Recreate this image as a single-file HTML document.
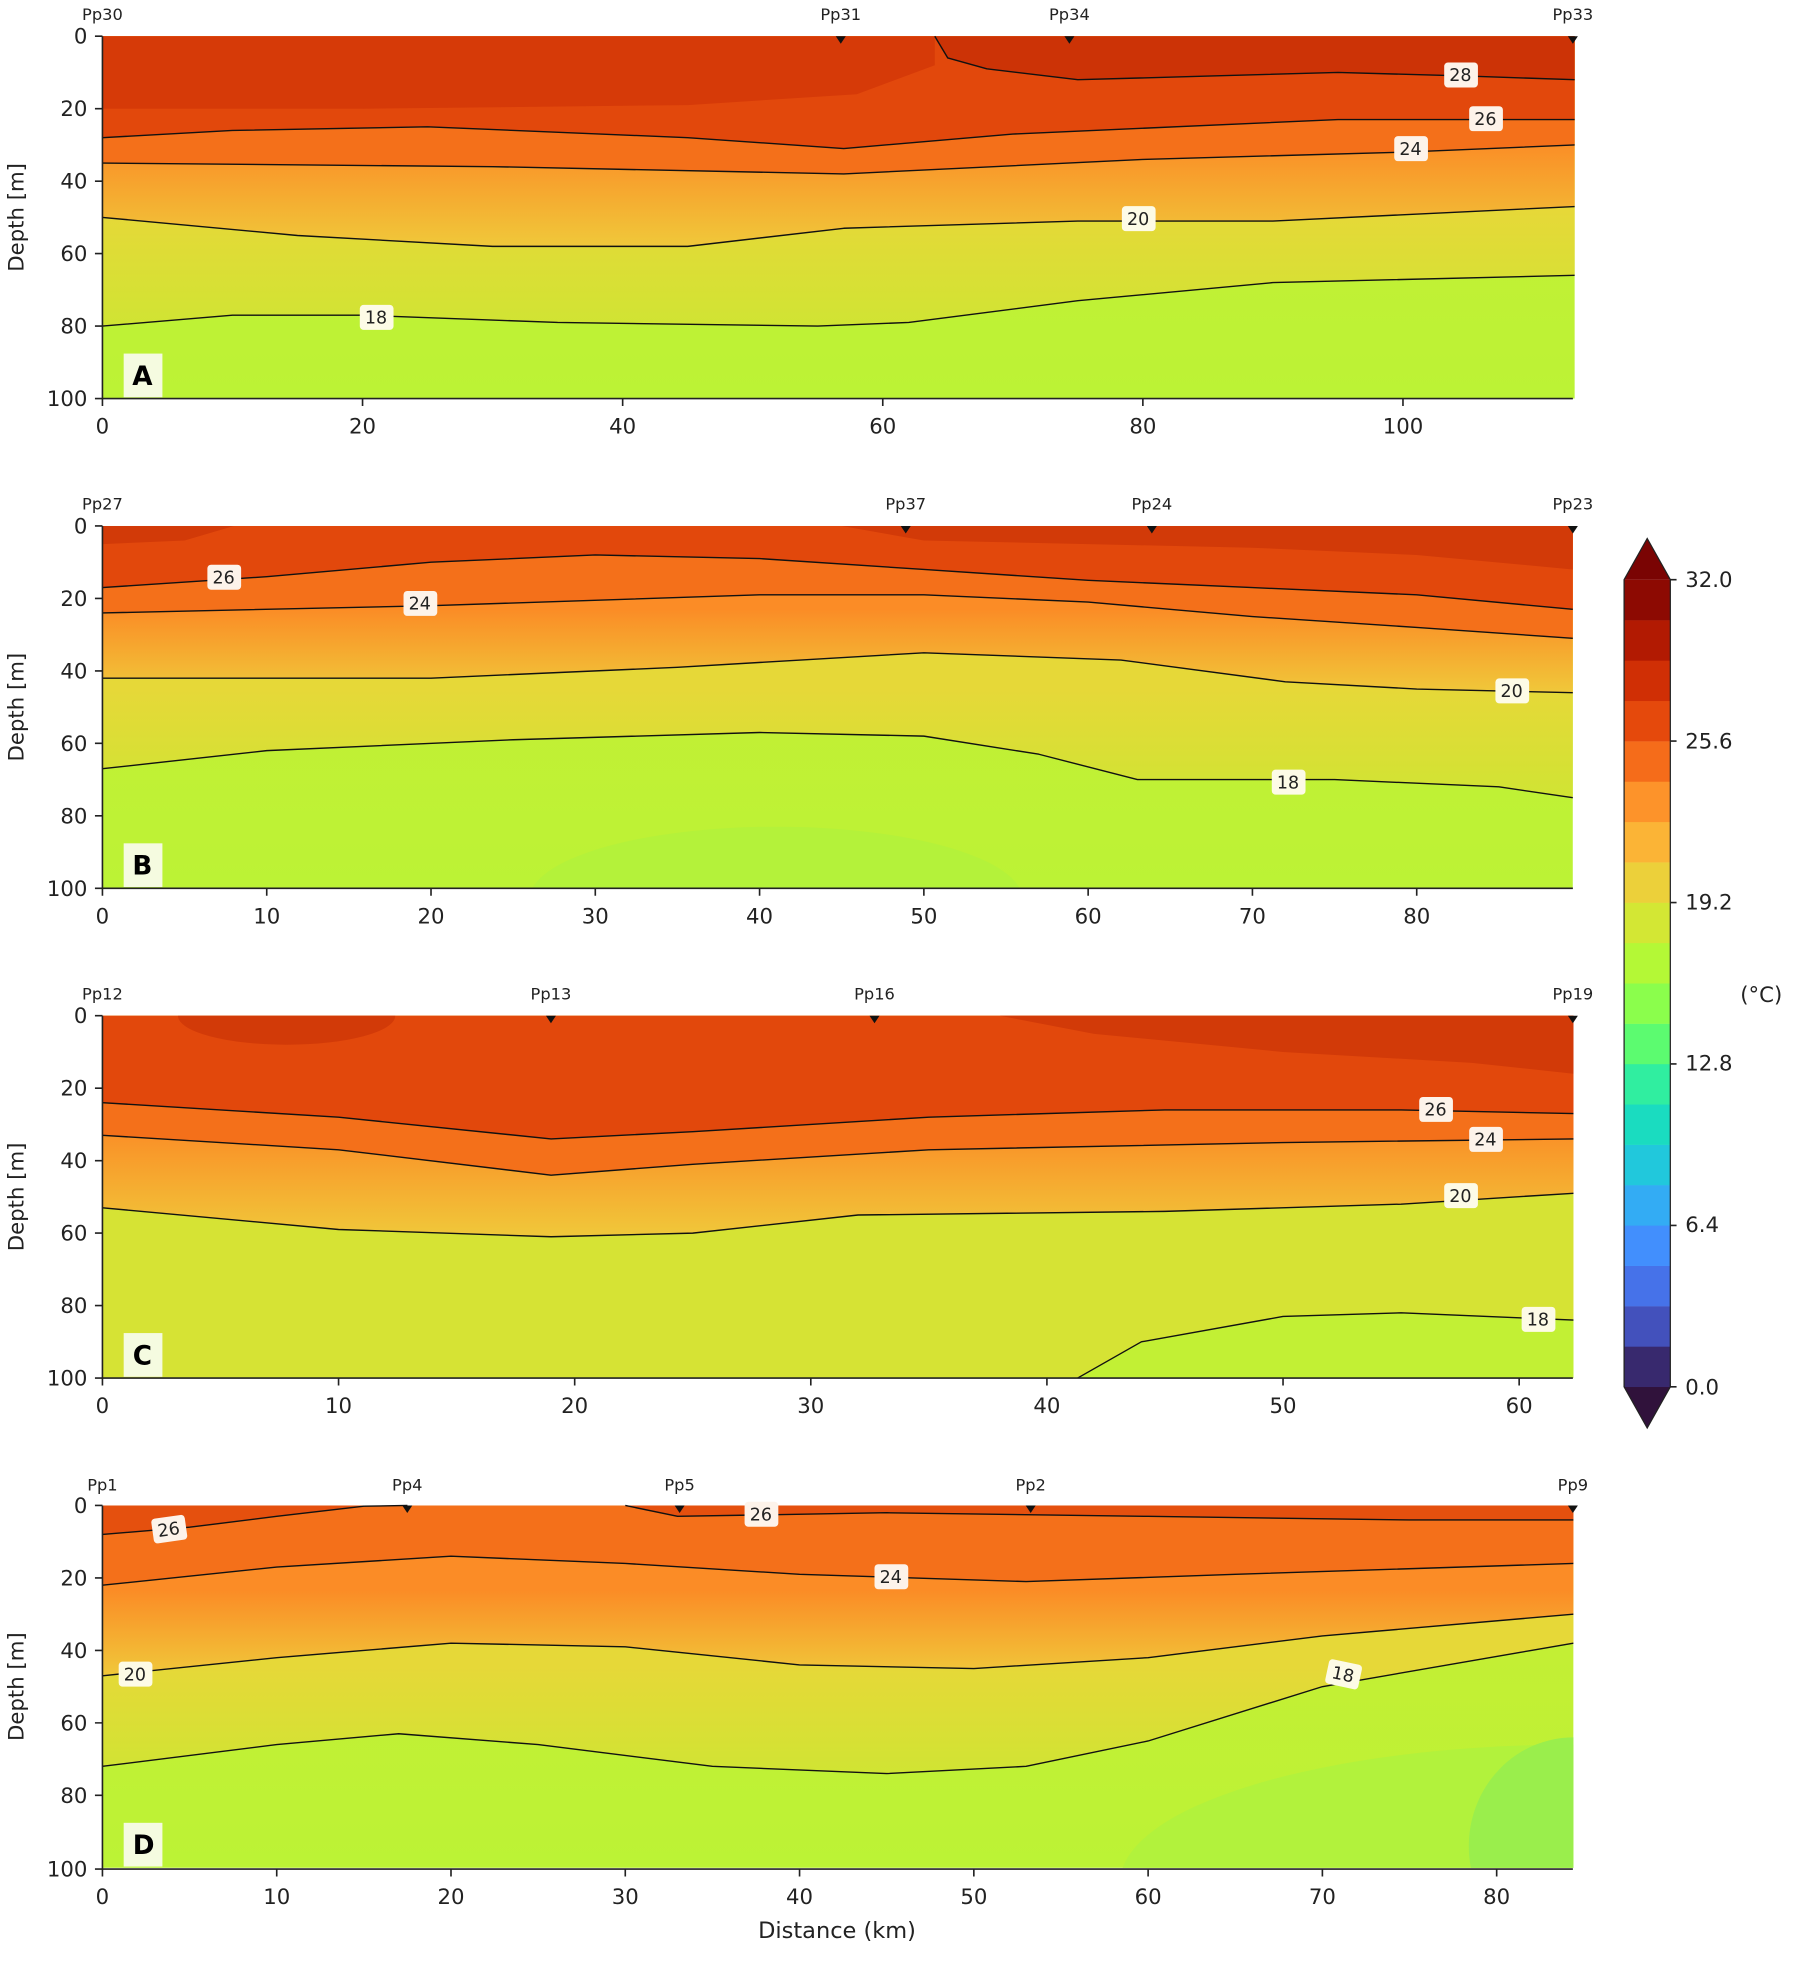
<!DOCTYPE html>
<html><head><meta charset="utf-8"><style>html,body{margin:0;padding:0;background:#fff}svg{display:block}</style></head><body>
<svg width="1799" height="1969" viewBox="0 0 1440 1576" preserveAspectRatio="none" xmlns="http://www.w3.org/2000/svg" font-family="DejaVu Sans, Liberation Sans, sans-serif">
<defs>
<linearGradient id="g20" x1="0" y1="0" x2="0" y2="1"><stop offset="0.5" stop-color="#fb8c26"/><stop offset="1" stop-color="#f0c83a"/></linearGradient>
<linearGradient id="g18" x1="0" y1="0" x2="0" y2="1"><stop offset="0.6" stop-color="#e6d838"/><stop offset="1" stop-color="#d0e433"/></linearGradient>
<linearGradient id="gbg" x1="0" y1="0" x2="0" y2="1"><stop offset="0" stop-color="#c8ec34"/><stop offset="1" stop-color="#bcf335"/></linearGradient>
<clipPath id="cB" clipPathUnits="userSpaceOnUse"><rect x="0" y="0" width="89.5" height="100"/></clipPath>
<clipPath id="cC" clipPathUnits="userSpaceOnUse"><rect x="0" y="0" width="62.3" height="100"/></clipPath>
<clipPath id="cD" clipPathUnits="userSpaceOnUse"><rect x="0" y="0" width="84.4" height="100"/></clipPath>
<style>.c{fill:none;stroke:#111;stroke-width:1.4;vector-effect:non-scaling-stroke;stroke-linejoin:round}.t{font-size:17px;fill:#222}.s{font-size:13px;fill:#222}.lb{font-size:14px;fill:#222}</style>
</defs>

<!-- ===== Panel A ===== -->
<g transform="translate(82,29) scale(10.41,2.9)">
<rect x="0" y="0" width="113.2" height="100" fill="url(#gbg)"/>
<polygon fill="url(#g18)" points="0,80 10,77 20,77 35,79 55,80 62,79 75,73 90,68 113.2,66 113.2,0 0,0"/>
<polygon fill="url(#g20)" points="0,50 15,55 30,58 45,58 57,53 75,51 90,51 113.2,47 113.2,0 0,0"/>
<polygon fill="#f4701a" points="0,35 30,36 57,38 80,34 100,32 113.2,30 113.2,0 0,0"/>
<polygon fill="#e2480c" points="0,28 10,26 25,25 45,28 57,31 70,27 95,23 113.2,23 113.2,0 0,0"/>
<polygon fill="#d63a08" points="0,0 0,20 20,20 45,19 58,16 64,8 64,0"/>
<polygon fill="#cc3306" points="64,0 65,6 68,9 75,12 85,11 95,10 105,11 113.2,12 113.2,0"/>
<polyline class="c" points="64,0 65,6 68,9 75,12 85,11 95,10 105,11 113.2,12"/>
<polyline class="c" points="0,28 10,26 25,25 45,28 57,31 70,27 95,23 113.2,23"/>
<polyline class="c" points="0,35 30,36 57,38 80,34 100,32 113.2,30"/>
<polyline class="c" points="0,50 15,55 30,58 45,58 57,53 75,51 90,51 113.2,47"/>
<polyline class="c" points="0,80 10,77 20,77 35,79 55,80 62,79 75,73 90,68 113.2,66"/>
</g>
<g class="lb" text-anchor="middle">
<rect x="1156" y="50" width="27" height="20" rx="3" fill="#fdf3ea"/><text x="1169" y="65">28</text>
<rect x="1176" y="85" width="27" height="20" rx="3" fill="#fdf3ea"/><text x="1189" y="100">26</text>
<rect x="1116" y="109" width="27" height="20" rx="3" fill="#fdf3ea"/><text x="1129" y="124">24</text>
<rect x="898" y="165" width="27" height="20" rx="3" fill="#fdfbe6"/><text x="911" y="180">20</text>
<rect x="288" y="244" width="27" height="20" rx="3" fill="#fdfbe6"/><text x="301" y="259">18</text>
</g>
<rect x="99" y="283" width="31" height="35" fill="#f5fbe0"/><text x="114" y="308" font-size="21" font-weight="bold" text-anchor="middle">A</text>
<g class="s" text-anchor="middle"><text x="82" y="16">Pp30</text><text x="673" y="16">Pp31</text><text x="856" y="16">Pp34</text><text x="1259" y="16">Pp33</text></g>
<g fill="#111"><path d="M669,29h8l-4,6z"/><path d="M852,29h8l-4,6z"/><path d="M1255,29h8l-4,6z"/></g>

<!-- ===== Panel B ===== -->
<g transform="translate(82,421) scale(13.15,2.9)">
<rect x="0" y="0" width="89.5" height="100" fill="url(#gbg)"/>
<g clip-path="url(#cB)"><ellipse cx="41" cy="103" rx="15" ry="20" fill="#b4f23a"/></g>
<polygon fill="url(#g18)" points="0,67 10,62 25,59 40,57 50,58 57,63 63,70 75,70 85,72 89.5,75 89.5,0 0,0"/>
<polygon fill="url(#g20)" points="0,42 20,42 35,39 50,35 62,37 72,43 80,45 89.5,46 89.5,0 0,0"/>
<polygon fill="#f4701a" points="0,24 20,22 40,19 50,19 60,21 70,25 80,28 89.5,31 89.5,0 0,0"/>
<polygon fill="#e2480c" points="0,17 10,14 20,10 30,8 40,9 50,12 60,15 70,17 80,19 89.5,23 89.5,0 0,0"/>
<polygon fill="#d23a08" points="45,0 50,4 60,5 70,6 80,8 89.5,12 89.5,0"/>
<polygon fill="#d23a08" points="0,0 0,5 5,4 8,0"/>
<polyline class="c" points="0,17 10,14 20,10 30,8 40,9 50,12 60,15 70,17 80,19 89.5,23"/>
<polyline class="c" points="0,24 20,22 40,19 50,19 60,21 70,25 80,28 89.5,31"/>
<polyline class="c" points="0,42 20,42 35,39 50,35 62,37 72,43 80,45 89.5,46"/>
<polyline class="c" points="0,67 10,62 25,59 40,57 50,58 57,63 63,70 75,70 85,72 89.5,75"/>
</g>
<g class="lb" text-anchor="middle">
<rect x="166" y="452" width="27" height="20" rx="3" fill="#fdf3ea"/><text x="179" y="467">26</text>
<rect x="323" y="473" width="27" height="20" rx="3" fill="#fdf3ea"/><text x="336" y="488">24</text>
<rect x="1197" y="543" width="27" height="20" rx="3" fill="#fdfbe6"/><text x="1210" y="558">20</text>
<rect x="1018" y="616" width="27" height="20" rx="3" fill="#fdfbe6"/><text x="1031" y="631">18</text>
</g>
<rect x="99" y="675" width="31" height="35" fill="#f5fbe0"/><text x="114" y="700" font-size="21" font-weight="bold" text-anchor="middle">B</text>
<g class="s" text-anchor="middle"><text x="82" y="408">Pp27</text><text x="725" y="408">Pp37</text><text x="922" y="408">Pp24</text><text x="1259" y="408">Pp23</text></g>
<g fill="#111"><path d="M721,421h8l-4,6z"/><path d="M918,421h8l-4,6z"/><path d="M1255,421h8l-4,6z"/></g>

<!-- ===== Panel C ===== -->
<g transform="translate(82,813) scale(18.9,2.9)">
<rect x="0" y="0" width="62.3" height="100" fill="#d6e334"/>
<polygon fill="#c2f034" points="41.3,100 44,90 50,83 55,82 62.3,84 62.3,100"/>
<polygon fill="url(#g20)" points="0,53 10,59 19,61 25,60 32,55 45,54 55,52 62.3,49 62.3,0 0,0"/>
<polygon fill="#f4701a" points="0,33 10,37 19,44 25,41 35,37 50,35 62.3,34 62.3,0 0,0"/>
<polygon fill="#e2480c" points="0,24 10,28 19,34 25,32 35,28 45,26 55,26 62.3,27 62.3,0 0,0"/>
<g clip-path="url(#cC)"><ellipse cx="7.8" cy="0" rx="4.6" ry="8" fill="#d23a08"/></g>
<polygon fill="#d23a08" points="38,0 42,5 50,10 58,13 62.3,16 62.3,0"/>
<polyline class="c" points="0,24 10,28 19,34 25,32 35,28 45,26 55,26 62.3,27"/>
<polyline class="c" points="0,33 10,37 19,44 25,41 35,37 50,35 62.3,34"/>
<polyline class="c" points="0,53 10,59 19,61 25,60 32,55 45,54 55,52 62.3,49"/>
<polyline class="c" points="41.3,100 44,90 50,83 55,82 62.3,84"/>
</g>
<g class="lb" text-anchor="middle">
<rect x="1136" y="878" width="27" height="20" rx="3" fill="#fdf3ea"/><text x="1149" y="893">26</text>
<rect x="1176" y="902" width="27" height="20" rx="3" fill="#fdf3ea"/><text x="1189" y="917">24</text>
<rect x="1156" y="947" width="27" height="20" rx="3" fill="#fdfbe6"/><text x="1169" y="962">20</text>
<rect x="1218" y="1046" width="27" height="20" rx="3" fill="#fdfbe6"/><text x="1231" y="1061">18</text>
</g>
<rect x="99" y="1067" width="31" height="35" fill="#f5fbe0"/><text x="114" y="1092" font-size="21" font-weight="bold" text-anchor="middle">C</text>
<g class="s" text-anchor="middle"><text x="82" y="800">Pp12</text><text x="441" y="800">Pp13</text><text x="700" y="800">Pp16</text><text x="1259" y="800">Pp19</text></g>
<g fill="#111"><path d="M437,813h8l-4,6z"/><path d="M696,813h8l-4,6z"/><path d="M1255,813h8l-4,6z"/></g>

<!-- ===== Panel D ===== -->
<g transform="translate(82,1205) scale(13.95,2.9)">
<rect x="0" y="0" width="84.4" height="100" fill="url(#gbg)"/>
<g clip-path="url(#cD)">
<ellipse cx="84.4" cy="104" rx="26" ry="38" fill="#b2f23c"/>
<ellipse cx="84.4" cy="94" rx="6" ry="30" fill="#9aee4c"/>
</g>
<polygon fill="url(#g18)" points="0,72 10,66 17,63 25,66 35,72 45,74 53,72 60,65 70,50 84.4,38 84.4,0 0,0"/>
<polygon fill="url(#g20)" points="0,47 10,42 20,38 30,39 40,44 50,45 60,42 70,36 84.4,30 84.4,0 0,0"/>
<polygon fill="#f4701a" points="0,22 10,17 20,14 30,16 40,19 53,21 65,19 84.4,16 84.4,0 0,0"/>
<polygon fill="#e5500e" points="0,8 5,6 10,3 15,0 0,0"/>
<polygon fill="#e5500e" points="30,0 33,3 45,2 60,3 75,4 84.4,4 84.4,0"/>
<polyline class="c" points="0,8 5,6 10,3 15,0.2 17.5,0"/>
<polyline class="c" points="30,0 33,3 45,2 60,3 75,4 84.4,4"/>
<polyline class="c" points="0,22 10,17 20,14 30,16 40,19 53,21 65,19 84.4,16"/>
<polyline class="c" points="0,47 10,42 20,38 30,39 40,44 50,45 60,42 70,36 84.4,30"/>
<polyline class="c" points="0,72 10,66 17,63 25,66 35,72 45,74 53,72 60,65 70,50 84.4,38"/>
</g>
<g class="lb" text-anchor="middle">
<g transform="rotate(-8 135 1224)"><rect x="122" y="1214" width="27" height="20" rx="3" fill="#fdf3ea"/><text x="135" y="1229">26</text></g>
<rect x="596" y="1202" width="27" height="20" rx="3" fill="#fdf3ea"/><text x="609" y="1217">26</text>
<rect x="700" y="1252" width="27" height="20" rx="3" fill="#fdf3ea"/><text x="713" y="1267">24</text>
<rect x="95" y="1330" width="27" height="20" rx="3" fill="#fdfbe6"/><text x="108" y="1345">20</text>
<g transform="rotate(12 1075 1340)"><rect x="1062" y="1330" width="27" height="20" rx="3" fill="#fdfbe6"/><text x="1075" y="1345">18</text></g>
</g>
<rect x="99" y="1459" width="31" height="35" fill="#f5fbe0"/><text x="115" y="1484" font-size="21" font-weight="bold" text-anchor="middle">D</text>
<g class="s" text-anchor="middle"><text x="82" y="1193">Pp1</text><text x="326" y="1193">Pp4</text><text x="544" y="1193">Pp5</text><text x="825" y="1193">Pp2</text><text x="1259" y="1193">Pp9</text></g>
<g fill="#111"><path d="M322,1205h8l-4,6z"/><path d="M540,1205h8l-4,6z"/><path d="M821,1205h8l-4,6z"/><path d="M1255,1205h8l-4,6z"/></g>

<!-- ===== Axes ===== -->
<g stroke="#222" stroke-width="1.3" fill="none">
<path d="M82,29V319H1259 M82,421V711H1259 M82,813V1103H1259 M82,1205V1496H1259"/>
<path d="M76,29h6M76,87h6M76,145h6M76,203h6M76,261h6M76,319h6
M76,421h6M76,479h6M76,537h6M76,595h6M76,653h6M76,711h6
M76,813h6M76,871h6M76,929h6M76,987h6M76,1045h6M76,1103h6
M76,1205h6M76,1263h6M76,1321h6M76,1379h6M76,1437h6M76,1496h6"/>
<path d="M82,319v6M290.2,319v6M498.4,319v6M706.6,319v6M914.8,319v6M1123,319v6
M82,711v6M213.5,711v6M345,711v6M476.5,711v6M608,711v6M739.5,711v6M871,711v6M1002.5,711v6M1134,711v6
M82,1103v6M271,1103v6M460,1103v6M649,1103v6M838,1103v6M1027,1103v6M1216,1103v6
M82,1496v6M221.5,1496v6M361,1496v6M500.5,1496v6M640,1496v6M779.5,1496v6M919,1496v6M1058.5,1496v6M1198,1496v6"/>
</g>
<g class="t" text-anchor="end">
<text x="70" y="35">0</text><text x="70" y="93">20</text><text x="70" y="151">40</text><text x="70" y="209">60</text><text x="70" y="267">80</text><text x="70" y="325">100</text>
<text x="70" y="427">0</text><text x="70" y="485">20</text><text x="70" y="543">40</text><text x="70" y="601">60</text><text x="70" y="659">80</text><text x="70" y="717">100</text>
<text x="70" y="819">0</text><text x="70" y="877">20</text><text x="70" y="935">40</text><text x="70" y="993">60</text><text x="70" y="1051">80</text><text x="70" y="1109">100</text>
<text x="70" y="1211">0</text><text x="70" y="1269">20</text><text x="70" y="1327">40</text><text x="70" y="1385">60</text><text x="70" y="1443">80</text><text x="70" y="1502">100</text>
</g>
<g class="t" text-anchor="middle">
<text x="82" y="347">0</text><text x="290.2" y="347">20</text><text x="498.4" y="347">40</text><text x="706.6" y="347">60</text><text x="914.8" y="347">80</text><text x="1123" y="347">100</text>
<text x="82" y="739">0</text><text x="213.5" y="739">10</text><text x="345" y="739">20</text><text x="476.5" y="739">30</text><text x="608" y="739">40</text><text x="739.5" y="739">50</text><text x="871" y="739">60</text><text x="1002.5" y="739">70</text><text x="1134" y="739">80</text>
<text x="82" y="1131">0</text><text x="271" y="1131">10</text><text x="460" y="1131">20</text><text x="649" y="1131">30</text><text x="838" y="1131">40</text><text x="1027" y="1131">50</text><text x="1216" y="1131">60</text>
<text x="82" y="1524">0</text><text x="221.5" y="1524">10</text><text x="361" y="1524">20</text><text x="500.5" y="1524">30</text><text x="640" y="1524">40</text><text x="779.5" y="1524">50</text><text x="919" y="1524">60</text><text x="1058.5" y="1524">70</text><text x="1198" y="1524">80</text>
<text x="670" y="1551" font-size="18">Distance (km)</text>
<text transform="translate(19,174) rotate(-90)">Depth [m]</text>
<text transform="translate(19,566) rotate(-90)">Depth [m]</text>
<text transform="translate(19,958) rotate(-90)">Depth [m]</text>
<text transform="translate(19,1350) rotate(-90)">Depth [m]</text>
</g>

<!-- ===== Colorbar ===== -->
<g>
<path d="M1300,464 L1318.5,431 L1337,464Z" fill="#7a0403"/>
<path d="M1300,1110 L1318.5,1143 L1337,1110Z" fill="#30123b"/>
<rect x="1300" y="1077.7" width="37" height="32.5" fill="#38296e"/>
<rect x="1300" y="1045.4" width="37" height="32.5" fill="#4351bc"/>
<rect x="1300" y="1013.1" width="37" height="32.5" fill="#4672e9"/>
<rect x="1300" y="980.8" width="37" height="32.5" fill="#428ffd"/>
<rect x="1300" y="948.5" width="37" height="32.5" fill="#33acf4"/>
<rect x="1300" y="916.2" width="37" height="32.5" fill="#21c8dc"/>
<rect x="1300" y="883.9" width="37" height="32.5" fill="#1adcc0"/>
<rect x="1300" y="851.6" width="37" height="32.5" fill="#30eea0"/>
<rect x="1300" y="819.3" width="37" height="32.5" fill="#5cfb70"/>
<rect x="1300" y="787" width="37" height="32.5" fill="#8bfe4c"/>
<rect x="1300" y="754.7" width="37" height="32.5" fill="#b4f836"/>
<rect x="1300" y="722.4" width="37" height="32.5" fill="#d3e734"/>
<rect x="1300" y="690.1" width="37" height="32.5" fill="#ecd03a"/>
<rect x="1300" y="657.8" width="37" height="32.5" fill="#fbb436"/>
<rect x="1300" y="625.5" width="37" height="32.5" fill="#fd932a"/>
<rect x="1300" y="593.2" width="37" height="32.5" fill="#f56c1a"/>
<rect x="1300" y="560.9" width="37" height="32.5" fill="#e5490c"/>
<rect x="1300" y="528.6" width="37" height="32.5" fill="#d02f05"/>
<rect x="1300" y="496.3" width="37" height="32.5" fill="#b21a02"/>
<rect x="1300" y="464" width="37" height="32.5" fill="#8d0a02"/>
<path d="M1300,464 L1318.5,431 L1337,464 V1110 L1318.5,1143 L1300,1110Z" fill="none" stroke="#222" stroke-width="1"/>
<path d="M1337,464h5M1337,593.2h5M1337,722.4h5M1337,851.6h5M1337,980.8h5M1337,1110h5" stroke="#222" stroke-width="1.3"/>
<g class="t"><text x="1349" y="470">32.0</text><text x="1349" y="599">25.6</text><text x="1349" y="728">19.2</text><text x="1349" y="857">12.8</text><text x="1349" y="986">6.4</text><text x="1349" y="1116">0.0</text>
<text x="1393" y="802">(°C)</text></g>
</g>
</svg>
</body></html>
